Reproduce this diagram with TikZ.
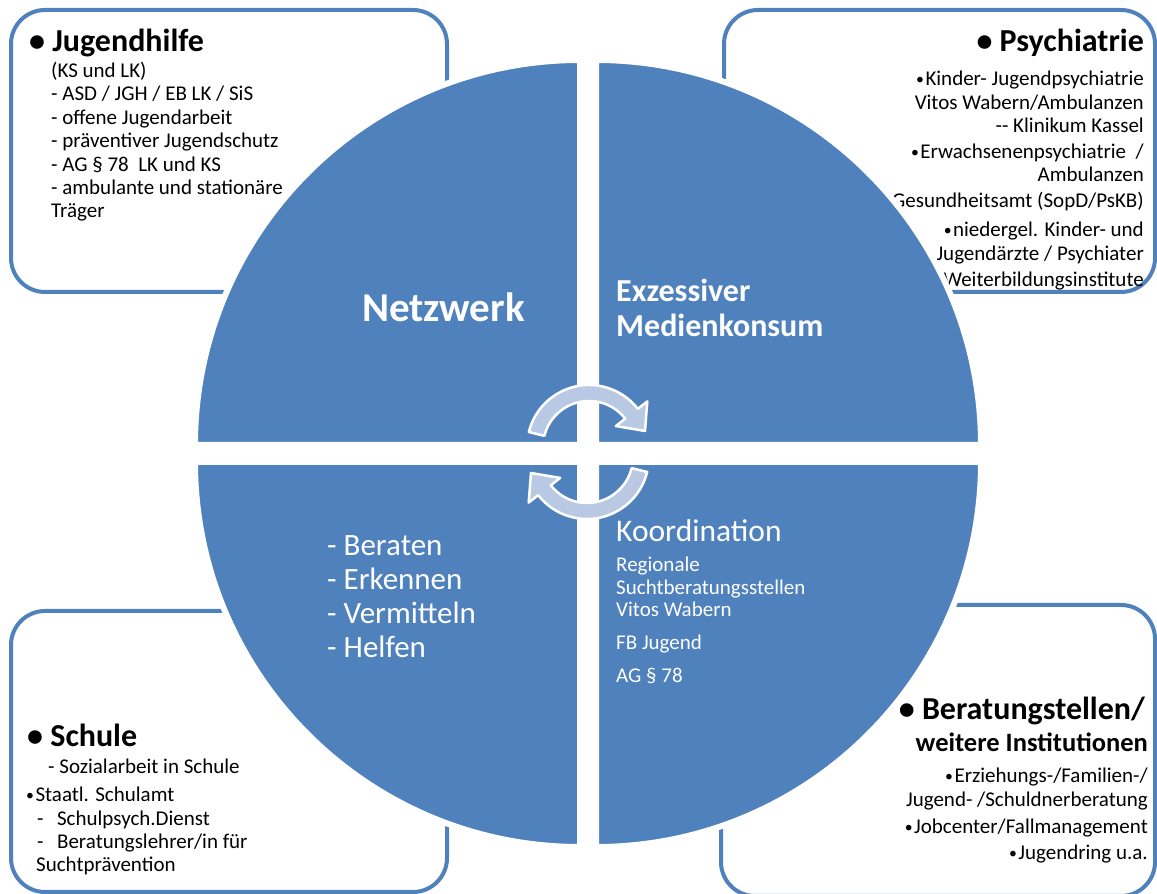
\documentclass[tikz,border=0pt]{standalone}
\usepackage{fontspec}
\setmainfont{Carlito}
\usepackage{graphicx}
\usepackage{tikz}
\usepackage{xcolor}
\definecolor{netblue}{RGB}{79,129,189}
\definecolor{arrowblue}{RGB}{185,200,227}
\newcommand{\subbullet}{\raisebox{1pt}{\scalebox{0.75}{\textbullet}}\hspace{1.5pt}}
\tikzset{
    info-box/.style = {draw=netblue, line width=4pt, fill=white, rounded corners=34pt},
    info-title/.style = {font=\fontsize{32}{36}\selectfont\bfseries, inner sep=0pt},
    info-list/.style = {font=\fontsize{21}{23.4}\selectfont, inner sep=0pt},
    quarter-disk/.style = {fill=netblue, draw=white, line width=6pt},
    cycle-arrow/.style = {fill=arrowblue, draw=white, line width=2.5pt, line join=round},
    disk-text/.style = {text=white, inner sep=0pt, align=left, anchor=base west},
}

\begin{document}
\begin{tikzpicture}[x=1pt, y=1pt]
\useasboundingbox (0,0) rectangle (1157,894);

% boxes round the circle
\draw[info-box] (11,602) rectangle (447,884);
\draw[info-box] (724,602) rectangle (1155,884);
\draw[info-box] (11,2) rectangle (447,283);
\draw[info-box] (721,-2) rectangle (1155,289);

% Jugendhilfe (multi-line nodes sit on their last line)
\node[info-title, anchor=base west] (jh-title) at (29,842) {\textbullet\ Jugendhilfe};
\node[info-list, align=left, anchor=base west] (jh-list) at (51,676) {(KS und LK)\\- ASD / JGH / EB LK / SiS\\- offene Jugendarbeit\\- präventiver Jugendschutz\\- AG § 78\ \ LK und KS\\- ambulante und stationäre\\Träger};

% Psychiatrie
\node[info-title, anchor=base east] (psy-title) at (1144,842) {\textbullet\ Psychiatrie};
\node[info-list, align=right, anchor=base east] (psy-list) at (1144,607) {\subbullet Kinder- Jugendpsychiatrie\\Vitos Wabern/Ambulanzen\\-{}- Klinikum Kassel\\[2.5pt]\subbullet Erwachsenenpsychiatrie\ \ /\\Ambulanzen\\[2.5pt]Gesundheitsamt (SopD/PsKB)\\[5.5pt]\subbullet niedergel. Kinder- und\\Jugendärzte / Psychiater\\[3.5pt]Weiterbildungsinstitute};

% Schule
\node[info-title, anchor=base west] (sch-title) at (27,147) {\textbullet\ Schule};
\node[info-list, anchor=base west] (sch-sub) at (48,120) {- Sozialarbeit in Schule};
\node[info-list, align=left, anchor=base west] (sch-list) at (26,22) {\subbullet Staatl. Schulamt\\\hspace*{11pt}-\hspace*{13.5pt}Schulpsych.Dienst\\\hspace*{11pt}-\hspace*{13.5pt}Beratungslehrer/in für\\\hspace*{10pt}Suchtprävention};

% Beratungstellen
\node[info-title, anchor=base east] (ber-title) at (1145,174) {\textbullet\ Beratungstellen/};
\node[font=\fontsize{26.5}{30}\selectfont\bfseries, inner sep=0pt, anchor=base east] (ber-sub) at (1148,142) {weitere Institutionen};
\node[info-list, align=right, anchor=base east] (ber-list) at (1148,34) {\subbullet Erziehungs-/Familien-/\\Jugend- /Schuldnerberatung\\[3.5pt]\subbullet Jobcenter/Fallmanagement\\[3.5pt]\subbullet Jugendring u.a.};

% the circle in four parts
\draw[quarter-disk] (580,449) -- ++(-385,0) arc[start angle=180, end angle=90, radius=385] -- cycle;
\draw[quarter-disk] (596,449) -- ++(0,385) arc[start angle=90, end angle=0, radius=385] -- cycle;
\draw[quarter-disk] (580,432) -- ++(0,-385) arc[start angle=270, end angle=180, radius=385] -- cycle;
\draw[quarter-disk] (596,432) -- ++(385,0) arc[start angle=0, end angle=-90, radius=385] -- cycle;

\node[disk-text, font=\fontsize{41}{44}\selectfont\bfseries] (netz) at (362,572) {Netzwerk};
\node[disk-text, font=\fontsize{32}{35}\selectfont\bfseries] (medien) at (616,557) {Exzessiver\\Medienkonsum};
\node[disk-text, font=\fontsize{31}{34.3}\selectfont] (tasks) at (327,236) {- Beraten\\- Erkennen\\- Vermitteln\\- Helfen};
\node[disk-text, font=\fontsize{31.5}{34}\selectfont] (koord) at (616,352) {Koordination};
\node[disk-text, font=\fontsize{21}{22.5}\selectfont] (koord-list) at (616,211) {Regionale\\Suchtberatungsstellen\\Vitos Wabern\\[10pt]FB Jugend\\[11pt]AG § 78};

% cycle arrows in the middle
\foreach \turn in {0,180}{
  \begin{scope}[rotate around={\turn:(588,442)}, shift={(589,447)}]
    \draw[cycle-arrow] (166:62) arc[start angle=166, end angle=38, radius=62]
      -- (38:74) -- (56,16) -- (38:34) -- (38:46)
      arc[start angle=38, end angle=166, radius=46] -- cycle;
  \end{scope}
}
\end{tikzpicture}
\end{document}
